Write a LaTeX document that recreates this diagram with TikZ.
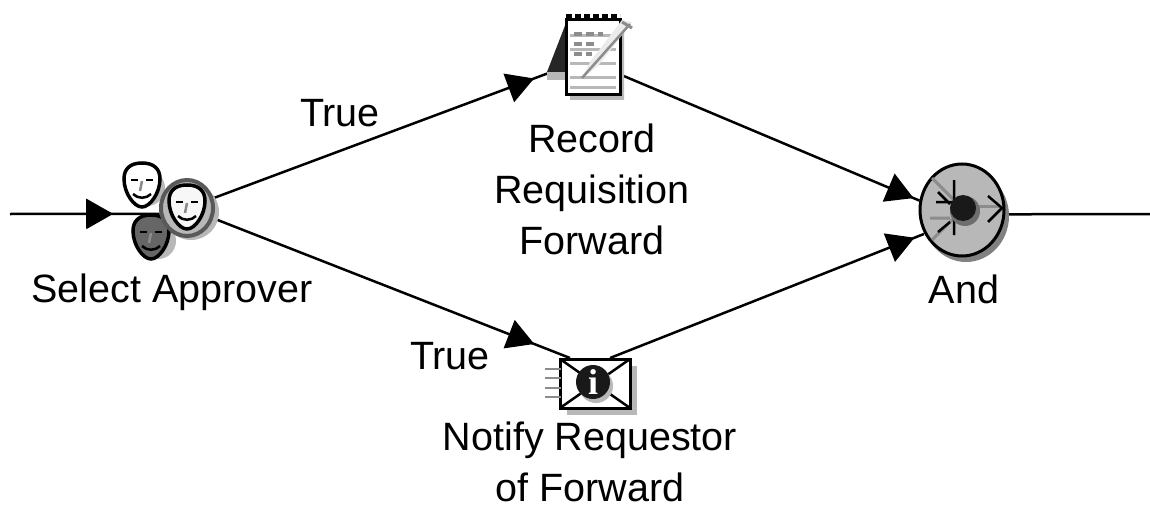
\documentclass[tikz,border=0pt]{standalone}
\usepackage{fontspec}
\setmainfont{Liberation Sans}
\newfontfamily\iconfont{Liberation Serif}
\usetikzlibrary{arrows.meta}
\usetikzlibrary{decorations.markings}
\definecolor{iconshade}{gray}{0.72}
\definecolor{iconline}{gray}{0.55}
\tikzset{
    flowtip/.style={postaction={decorate},decoration={markings,
        mark=at position #1 with {\arrow{Triangle[length=27pt,width=30pt]}}}},
    facepic/.pic={
        \draw[line width=3.5pt,fill=#1] (0,-22) .. controls (12,-22) and (18,-16) .. (18,-6)
            .. controls (18,8) and (8,22) .. (0,22) .. controls (-8,22) and (-18,8) .. (-18,-6)
            .. controls (-18,-16) and (-12,-22) .. (0,-22) -- cycle;
        \draw[line width=2.5pt] (-11,-5) -- (-4,-5) (4,-5) -- (11,-5);
        \draw[line width=2.5pt,iconline] (0,-4) -- (-2,6);
        \draw[line width=2.5pt] (-9,9) .. controls (-4,14) and (4,14) .. (9,9);
    }
}
\begin{document}
\begin{tikzpicture}[x=1pt,y=-1pt,line width=2.5pt]
    \useasboundingbox (0,0) rectangle (1150,508);
    \begin{scope}[every node/.style={inner sep=0pt,outer sep=0pt}]
    \node[circle,minimum size=56pt] (approver) at (187,208) {};
    \node[minimum width=60pt,minimum height=84pt] (record) at (592,60) {};
    \node[minimum width=70pt,minimum height=50pt] (notify) at (595,383) {};
    \node[circle,minimum size=88pt] (and) at (962,212) {};
    \coordinate (inlet) at (10,214);
    \coordinate (outlet) at (1150,214);
    \end{scope}
    \begin{scope}[every node/.style={font=\fontsize{39.5}{51}\selectfont,align=center,inner sep=0pt}]
    \node (labelapprover) at (172,292) {Select Approver};
    \node (labelrecord) at (592,189) {Record\\Requisition\\Forward};
    \node (labelnotify) at (590,462) {Notify Requestor\\of Forward};
    \node (labeland) at (964,289) {And};
    \node (labeltrue) at (340,113) {True};
    \node (labeltruelow) at (450,356) {True};
    \end{scope}
    \begin{scope}[every edge/.style={draw=black,line width=2.5pt}]
    \path (inlet) edge[flowtip=0.69] (approver.192);
    \path (approver) edge[flowtip=0.92] (record.195);
    \path (approver) edge[flowtip=0.90] (notify.135);
    \path (record.-27) edge[flowtip=0.98] (and.165);
    \path (notify.59) edge[flowtip=0.97] (and.210);
    \path (and.-3) edge (outlet);
    \end{scope}
    % approver faces
    \fill[iconshade] (147,188) circle (18pt);
    \pic at (142,185) {facepic=white};
    \fill[iconshade] (158,241) circle (18pt);
    \pic at (151,237) {facepic={black!60}};
    \fill[iconshade] (191,212) circle (28pt);
    \draw[line width=4pt,black!65,fill=iconshade] (187,208) ellipse (26pt and 28pt);
    \pic at (187,207) {facepic={black!3}};
    % notepad
    \fill[iconshade] (547,72) rectangle (566,80) (570,30) rectangle (624,100);
    \fill[black!85] (566,23) -- (547,72) -- (566,72) -- cycle;
    \draw[line width=3pt,fill=white] (566,20) rectangle (620,95);
    \draw[line width=7pt,dash pattern=on 6pt off 3pt] (566,18) -- (620,18);
    \foreach \yline in {36,50,64,78,88}
        \draw[iconshade,line width=3pt] (570,\yline) -- (616,\yline);
    \draw[iconline,line width=3.5pt,dash pattern=on 8pt off 4pt] (574,34) -- (603,34) (574,44) -- (596,44) (574,54) -- (592,54);
    \fill[black!8] (632,22) -- (622,20) -- (590,62) -- (582,78) -- (598,66) -- cycle;
    \draw[iconline,line width=2.5pt] (630,24) -- (582,78);
    \draw[line width=3pt,iconline] (622,22) -- (632,28);
    % envelope
    \fill[iconshade] (567,366) rectangle (637,415);
    \draw[line width=3pt,fill=white] (560,359) rectangle (630,408);
    \draw[line width=2.5pt] (560,359) -- (630,408) (630,359) -- (560,408);
    \foreach \yline in {369,378,388,397}
        \draw[iconline,line width=2.5pt] (545,\yline) -- (561,\yline);
    \fill[iconshade] (596,386) circle (17pt);
    \fill[black!90] (593,382) circle (17pt);
    \node[text=white,font=\iconfont\bfseries\fontsize{36}{36}\selectfont,inner sep=0pt] (infomark) at (593,382) {i};
    % and gate
    \fill[iconshade!70!black] (966,216) ellipse (43pt and 46pt);
    \draw[line width=3pt,fill=iconshade] (962,210) ellipse (42pt and 46pt);
    \draw[iconline,line width=3pt] (932,178) -- (956,202) (932,240) -- (956,216) (930,218) -- (950,218);
    \draw[line width=2.5pt] (938,192) -- (950,204) (954,180) -- (954,205) (936,202) -- (952,202) (954,235) -- (954,218) (938,232) -- (950,222);
    \draw[iconline,line width=3pt] (975,206) -- (1000,206);
    \draw[line width=2.5pt] (988,196) -- (1002,208) -- (988,222);
    \fill[iconshade!60!black] (965,211) circle (15pt);
    \fill[black!90] (963,208) circle (13pt);
\end{tikzpicture}
\end{document}
